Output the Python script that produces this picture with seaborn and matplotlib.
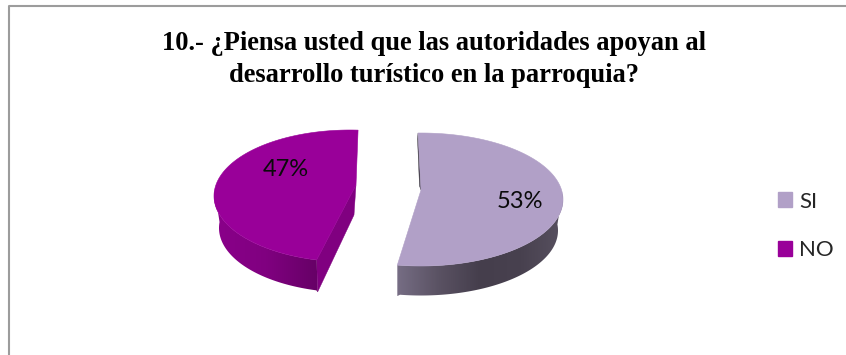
import numpy as np
import seaborn as sns
import matplotlib
matplotlib.use("Agg")
import matplotlib.pyplot as plt
from matplotlib.patches import Polygon, Patch

# Survey responses, in percent
categories = ["SI", "NO"]
percent_values = [53, 47]
title_lines = ["10.- ¿Piensa usted que las autoridades apoyan al",
               "desarrollo turístico en la parroquia?"]

sns.set_theme(style="white")
palette = sns.color_palette(["#B1A0C7", "#990099"])
rim_shades = [sns.blend_palette(["#766D84", "#5A5263", "#453E4C", "#48414F", "#57505F"], 200),
              sns.blend_palette(["#8A008A", "#800080", "#660066"], 200)]
cut_faces = ["#3F3A45", "#800080"]

fig = plt.figure(figsize=(8.46, 3.55), dpi=100)
ax = fig.add_axes([0, 0, 1, 1])
ax.set_xlim(0, 846)
ax.set_ylim(355, 0)
ax.axis("off")

# Frame: only the top and left edges fall inside the canvas
ax.plot([8.5, 8.5, 846], [355, 5.5, 5.5], color="#9C9C9C", lw=1.5, solid_capstyle="butt")

# Ellipse layout of each exploded slice: centre, radii, apex, starting angle, rim depth
slice_layout = {
    "SI": dict(cx=421, cy=199.5, a=142, b=66.5, apex=(421, 190), start=91.2, sign=-1, depth=31),
    "NO": dict(cx=350, cy=196, a=136, b=66, apex=(356, 185), start=86.6, sign=1, depth=32),
}
lower_shrink = 5


def arc(g, theta, shrink=0.0, drop=0.0):
    t = np.radians(theta)
    return np.column_stack([g["cx"] + (g["a"] - shrink) * np.cos(t),
                            g["cy"] + drop - (g["b"] - shrink * 0.3) * np.sin(t)])


for name, pct, colour, shades, cut in zip(categories, percent_values, palette, rim_shades, cut_faces):
    g = slice_layout[name]
    sweep = pct / sum(percent_values) * 360
    theta = g["start"] + g["sign"] * np.linspace(0, sweep, 241)
    top = arc(g, theta)
    low = arc(g, theta, lower_shrink, g["depth"])
    low[-1] = (top[-1, 0] + (1 if name == "NO" else 0), top[-1, 1] + g["depth"])

    # Flat cut face running from the apex down to the front rim
    if name == "NO":
        apex_low = (g["apex"][0] - 2, g["apex"][1] + 30)
        ax.add_patch(Polygon([g["apex"], apex_low, low[-1], top[-1]], fc=cut, ec=cut, lw=0.3, zorder=2))
    else:
        # Thin dark sliver along the back edge of the larger slice
        ax.add_patch(Polygon([top[0], g["apex"], (g["apex"][0] - 1.5, g["apex"][1] - 4),
                              (top[0, 0] - 0.5, top[0, 1] + 6)], fc=cut, ec=cut, lw=0.3, zorder=2))

    # Curved rim with a horizontal gradient, clipped to the front part of the outline
    front = np.sin(np.radians(theta)) < 0.1
    outline = np.vstack([top[front], low[front][::-1]])
    rim = Polygon(outline, fc="none", ec="none", transform=ax.transData)
    ax.add_patch(rim)
    x0, x1 = outline[:, 0].min(), outline[:, 0].max()
    y0, y1 = outline[:, 1].min(), outline[:, 1].max()
    image = ax.imshow(np.array(shades)[np.newaxis, :, :], extent=(x0, x1, y1, y0),
                      aspect="auto", interpolation="bilinear", zorder=3)
    image.set_clip_path(rim)

    # Top surface
    ax.add_patch(Polygon(np.vstack([top, g["apex"]]), fc=colour, ec=colour, lw=0.4, zorder=4))

ax.set_xlim(0, 846)
ax.set_ylim(355, 0)

# Percentage labels
label_positions = {"SI": (520, 201), "NO": (286, 169)}
for name, pct in zip(categories, percent_values):
    x, y = label_positions[name]
    ax.text(x, y, f"{pct}%", ha="center", va="center", fontsize=17,
            family="Lato", color="#0A0A0A", zorder=5)

# Title
for line, y in zip(title_lines, [43, 75]):
    ax.text(434, y, line, ha="center", va="center", fontsize=19.1, fontweight="bold",
            family="Liberation Serif", color="black")

# Legend
handles = [Patch(fc=c, ec=c) for c in palette]
ax.legend(handles, categories, loc="center left", bbox_to_anchor=(758, 226),
          bbox_transform=ax.transData, frameon=False,
          prop={"family": "Lato", "size": 16},
          handlelength=0.65, handleheight=0.65, handletextpad=0.3, labelspacing=1.3)

fig.savefig("out.png", dpi=100)
